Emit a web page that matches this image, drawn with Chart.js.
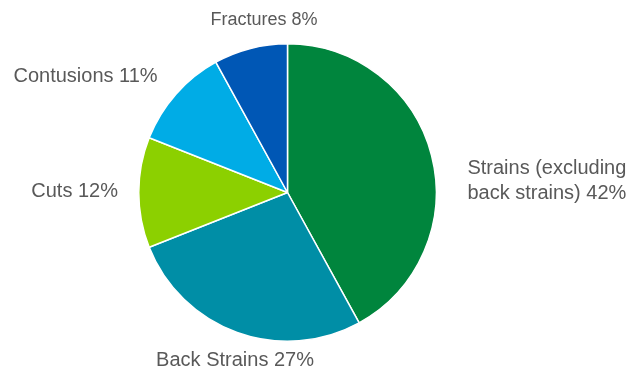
<!DOCTYPE html>
<html>
<head>
<meta charset="utf-8">
<script src="https://cdn.jsdelivr.net/npm/chart.js@4"></script>
<style>
  html, body { margin: 0; padding: 0; background: #fff; }
  #wrap { width: 641px; height: 375px; }
</style>
</head>
<body>
<div id="wrap"><canvas id="injuryChart" width="641" height="375"></canvas></div>
<script>
const categories = ["Strains (excluding back strains)", "Back Strains", "Cuts", "Contusions", "Fractures"];
const shares = [42, 27, 12, 11, 8];
const sliceColors = ["#00853d", "#008ea6", "#8cd000", "#00ace6", "#0057b5"];

// label text lines (wrapped as in the original)
const labelLines = [
    ["Strains (excluding", "back strains) 42%"],
    ["Back Strains 27%"],
    ["Cuts 12%"],
    ["Contusions 11%"],
    ["Fractures 8%"],
];
// small nudges from the computed anchor point
const labelNudge = [[7, 33], [8, 0], [9, -1], [4, 2], [21, 0]];

const outsideLabels = {
    id: "outsideLabels",
    afterDatasetsDraw(chart) {
        const ctx = chart.ctx;
        const arcs = chart.getDatasetMeta(0).data;
        ctx.save();
        ctx.fillStyle = "#595959";
        ctx.textBaseline = "middle";
        arcs.forEach((arc, i) => {
            const mid = (arc.startAngle + arc.endAngle) / 2;
            const r = arc.outerRadius * 1.2;
            const x = arc.x + Math.cos(mid) * r + labelNudge[i][0];
            const y = arc.y + Math.sin(mid) * r + labelNudge[i][1];
            const cosv = Math.cos(mid);
            if (Math.abs(cosv) < 0.4) ctx.textAlign = "center";
            else ctx.textAlign = cosv > 0 ? "left" : "right";
            ctx.font = (i === 4 ? "18px" : "20px") + " 'Liberation Sans', Arial, sans-serif";
            const lines = labelLines[i];
            const lh = 25;
            const top = y - (lines.length - 1) * lh / 2;
            lines.forEach((t, j) => ctx.fillText(t, x, top + j * lh));
        });
        ctx.restore();
    },
};

new Chart(document.getElementById("injuryChart"), {
    type: "pie",
    data: {
        labels: categories,
        datasets: [
            {
                data: shares,
                backgroundColor: sliceColors,
                borderColor: "#ffffff",
                borderWidth: 1.5,
            },
        ],
    },
    options: {
        responsive: false,
        animation: false,
        layout: { padding: { left: 138, right: 204, top: 43, bottom: 33 } },
        plugins: {
            legend: { display: false },
            tooltip: { enabled: false },
        },
    },
    plugins: [outsideLabels],
});
</script>
</body>
</html>
